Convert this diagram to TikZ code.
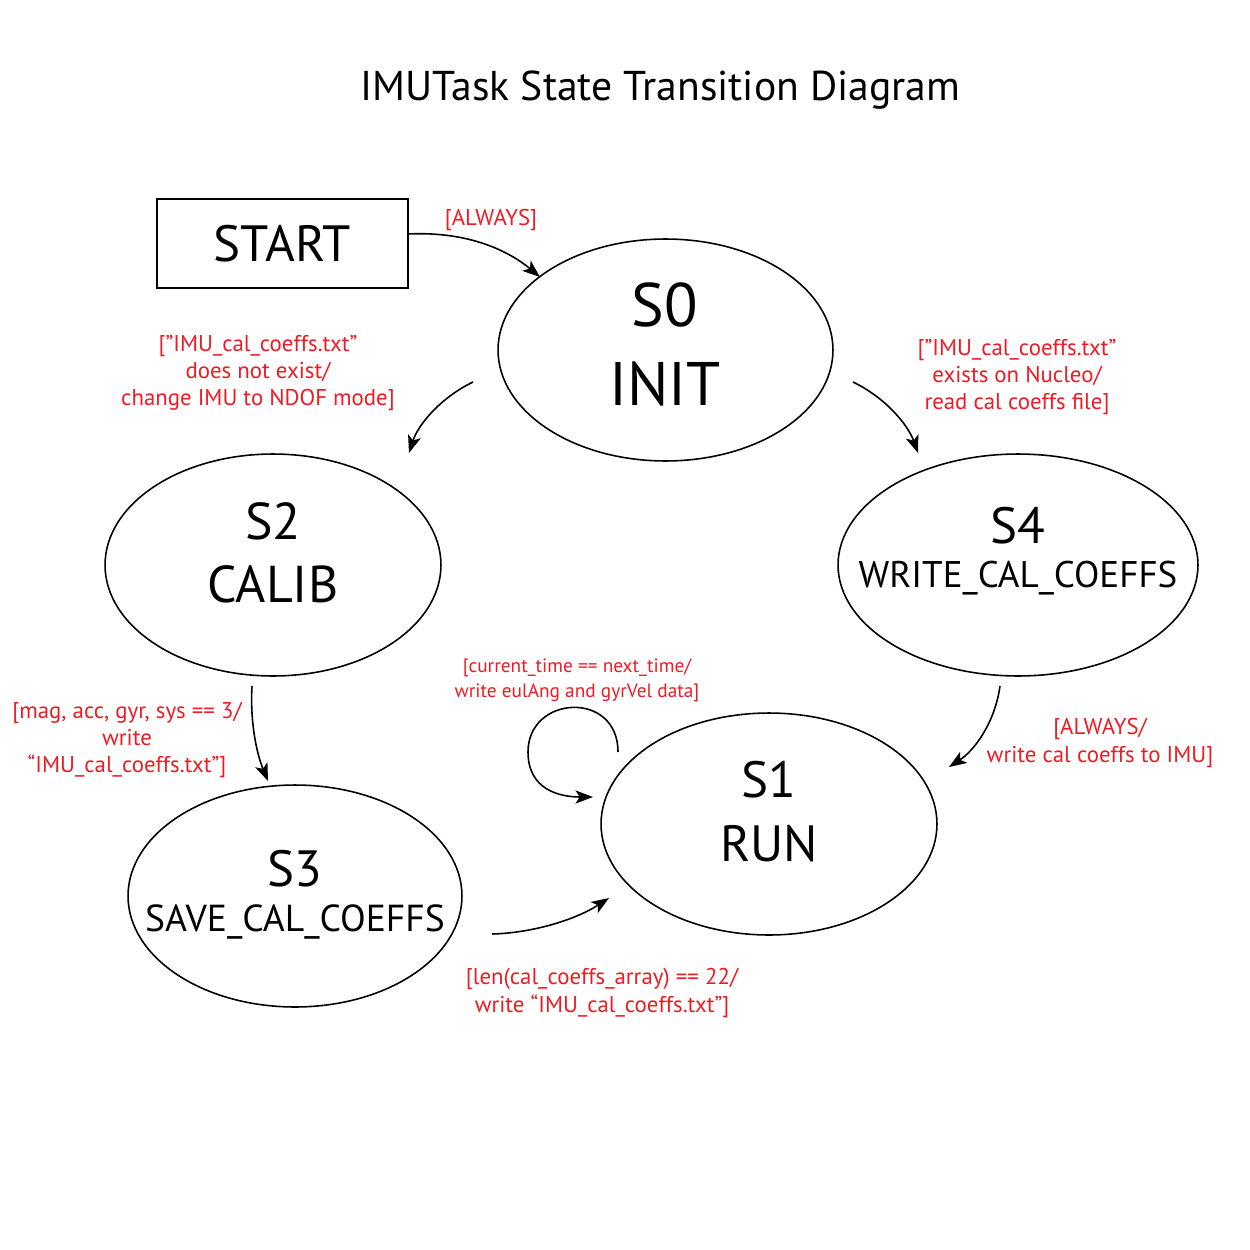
\documentclass[tikz,border=0pt]{standalone}
\usepackage{fontspec}
\setmainfont{PT Sans}
\usetikzlibrary{shapes.geometric,arrows.meta}
\definecolor{lblred}{RGB}{237,28,36}
\begin{document}
\begin{tikzpicture}[x=0.02cm,y=-0.02cm,
  state/.style={ellipse,draw,line width=0.9pt,inner sep=0pt},
  lbl/.style={text=lblred,font=\fontsize{13}{15.6}\selectfont,align=center,inner sep=0pt},
  conn/.style={line width=0.9pt,-{Stealth[length=10pt,width=7.5pt,inset=2.5pt]}},
  big/.style={font=\fontsize{#1}{#1}\selectfont,inner sep=0pt,anchor=base}]
\useasboundingbox[fill=white] (0,0) rectangle (1250,1250);

\node[big=23.7] (title) at (660.5,101) {IMUTask State Transition Diagram};

\node[draw,line width=0.9pt,minimum width=5.02cm,minimum height=1.78cm,inner sep=0pt,
      font=\fontsize{29}{29}\selectfont] (start) at (282.5,243.5) {START};

\node[state,minimum width=6.7cm,minimum height=4.44cm] (s0) at (665.5,350) {};
\node[big=35] (s0a) at (665,326) {S0};
\node[big=35] (s0b) at (665,405) {INIT};

\node[state,minimum width=6.72cm,minimum height=4.44cm] (s2) at (273,565) {};
\node[big=29.5] (s2a) at (273,539) {S2};
\node[big=29.5] (s2b) at (273,602) {CALIB};

\node[state,minimum width=7.2cm,minimum height=4.44cm] (s4) at (1018,565) {};
\node[big=29] (s4a) at (1018,543) {S4};
\node[big=21.1] (s4b) at (1018,587) {WRITE\_CAL\_COEFFS};

\node[state,minimum width=6.72cm,minimum height=4.44cm] (s1) at (769,824) {};
\node[big=29] (s1a) at (769,797) {S1};
\node[big=29] (s1b) at (769,861) {RUN};

\node[state,minimum width=6.68cm,minimum height=4.44cm] (s3) at (295,896) {};
\node[big=29] (s3a) at (295,886) {S3};
\node[big=21.4] (s3b) at (295,931) {SAVE\_CAL\_COEFFS};

% connector end points
\coordinate (a1) at (408,234);  \coordinate (b1) at (540,277);
\coordinate (a2) at (473,382);  \coordinate (b2) at (409,453);
\coordinate (a3) at (853,382);  \coordinate (b3) at (918,453);
\coordinate (a4) at (252,686);  \coordinate (b4) at (268,781);
\coordinate (a5) at (1000,686); \coordinate (b5) at (949,767);
\coordinate (a6) at (492,934);  \coordinate (b6) at (609,898);
\coordinate (a7) at (618,752);  \coordinate (b7) at (593,797);

\draw[conn] (a1) .. controls (470,231) and (510,252) .. (b1);
\draw[conn] (a2) .. controls (440,398) and (418,425) .. (b2);
\draw[conn] (a3) .. controls (886,398) and (908,425) .. (b3);
\draw[conn] (a4) .. controls (250,720) and (256,752) .. (b4);
\draw[conn] (a5) .. controls (995,722) and (975,750) .. (b5);
\draw[conn] (a6) .. controls (532,933) and (575,920) .. (b6);
\draw[conn] (a7) .. controls (618,690) and (528,695) .. (528,752)
                 .. controls (528,790) and (560,797) .. (b7);

\node[lbl,anchor=base] (l1) at (491,226) {[ALWAYS]};
\node[lbl] (l2) at (258,373) {[”IMU\_cal\_coeffs.txt”\\does not exist/\\change IMU to NDOF mode]};
\node[lbl] (l3) at (1017,377) {[”IMU\_cal\_coeffs.txt”\\exists on Nucleo/\\read cal coeffs file]};
\node[lbl] (l4) at (127,740) {[mag, acc, gyr, sys == 3/\\write\\“IMU\_cal\_coeffs.txt”]};
\node[lbl] (l5) at (1100,743) {[ALWAYS/\\write cal coeffs to IMU]};
\node[lbl] (l6) at (602,993) {[len(cal\_coeffs\_array) == 22/\\write “IMU\_cal\_coeffs.txt”]};
\node[lbl,font=\fontsize{11}{14.2}\selectfont] (l7) at (577,680) {[current\_time == next\_time/\\write eulAng and gyrVel data]};
\end{tikzpicture}
\end{document}
